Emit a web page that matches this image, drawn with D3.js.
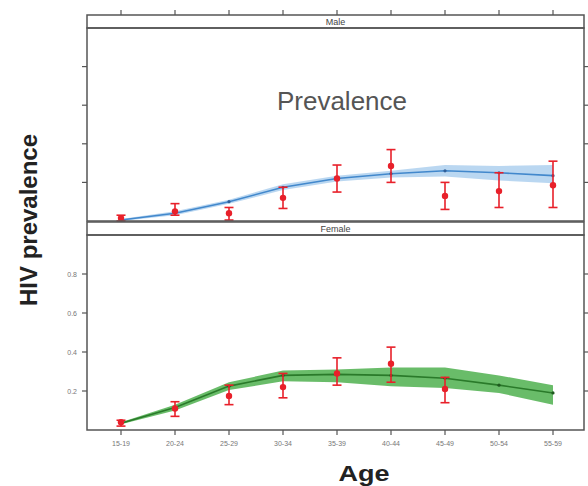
<!DOCTYPE html>
<html><head><meta charset="utf-8">
<script src="https://cdn.jsdelivr.net/npm/d3@7"></script>
<style>body{margin:0;background:#fff;} svg{display:block;font-family:"Liberation Sans",Arial,sans-serif;}</style>
</head><body>
<svg id="c" width="588" height="486"></svg>
<script>
const ageGroups = ["15-19","20-24","25-29","30-34","35-39","40-44","45-49","50-54","55-59"];
const yTicks = [0.2,0.4,0.6,0.8];

// Male model (blue)
const maleModel = [0.005,0.04,0.10,0.175,0.22,0.245,0.26,0.25,0.235];
const maleModelLo = [0.0,0.03,0.09,0.16,0.205,0.225,0.23,0.21,0.195];
const maleModelHi = [0.01,0.05,0.11,0.19,0.235,0.26,0.29,0.285,0.29];
// Male observed (red)
const maleObs = [0.015,0.05,0.04,0.12,0.22,0.285,0.13,0.155,0.185];
const maleObsLo = [0.0,0.03,0.005,0.065,0.15,0.20,0.06,0.07,0.07];
const maleObsHi = [0.03,0.09,0.07,0.175,0.29,0.37,0.20,0.25,0.31];

// Female model (green)
const femaleModel = [0.035,0.115,0.225,0.28,0.285,0.28,0.265,0.23,0.19];
const femaleModelLo = [0.03,0.10,0.205,0.25,0.245,0.225,0.215,0.19,0.13];
const femaleModelHi = [0.04,0.13,0.245,0.305,0.31,0.32,0.32,0.28,0.23];
// Female observed (red), ages 15-49 only
const femaleObs = [0.04,0.11,0.175,0.22,0.29,0.34,0.21];
const femaleObsLo = [0.02,0.07,0.13,0.165,0.23,0.245,0.14];
const femaleObsHi = [0.05,0.145,0.23,0.29,0.37,0.425,0.27];

const svg = d3.select("#c");
const X0 = 87, X1 = 584;
const x = d3.scalePoint().domain(ageGroups).range([121,553]);

const panels = [
  {name:"Male", stripTop:15, stripBot:28, plotBot:221, model:maleModel, lo:maleModelLo, hi:maleModelHi,
   obs:maleObs, oLo:maleObsLo, oHi:maleObsHi, band:"#aed0ee", line:"#4288cc", pt:"#2f5f9a", labels:false},
  {name:"Female", stripTop:222, stripBot:235, plotBot:430, model:femaleModel, lo:femaleModelLo, hi:femaleModelHi,
   obs:femaleObs, oLo:femaleObsLo, oHi:femaleObsHi, band:"#4fb04f", line:"#2a7a2a", pt:"#1f5a1f", labels:true}
];

const frame = "#555";
panels.forEach(p => {
  const y = d3.scaleLinear().domain([0,1]).range([p.plotBot, p.stripBot]);
  const g = svg.append("g");
  g.append("rect").attr("x",X0).attr("y",p.stripTop).attr("width",X1-X0).attr("height",p.stripBot-p.stripTop)
    .attr("fill","#fff").attr("stroke",frame).attr("stroke-width",1.5);
  g.append("text").attr("x",(X0+X1)/2).attr("y",(p.stripTop+p.stripBot)/2+3.5).attr("text-anchor","middle")
    .attr("font-size",9).attr("fill","#444").text(p.name);
  const idx = d3.range(ageGroups.length);
  g.append("path").datum(idx).attr("fill",p.band).attr("opacity",0.85)
    .attr("d", d3.area().x(i=>x(ageGroups[i])).y0(i=>y(p.lo[i])).y1(i=>y(p.hi[i])));
  g.append("path").datum(idx).attr("fill","none").attr("stroke",p.line).attr("stroke-width",1.6)
    .attr("d", d3.line().x(i=>x(ageGroups[i])).y(i=>y(p.model[i])));
  g.selectAll(".mp").data(idx).join("circle").attr("cx",i=>x(ageGroups[i])).attr("cy",i=>y(p.model[i]))
    .attr("r",1.6).attr("fill",p.pt);
  const oi = d3.range(p.obs.length);
  const red = "#e8202a";
  oi.forEach(i => {
    const cx = x(ageGroups[i]);
    g.append("line").attr("x1",cx).attr("x2",cx).attr("y1",y(p.oLo[i])).attr("y2",y(p.oHi[i])).attr("stroke",red).attr("stroke-width",1.6);
    [p.oLo[i],p.oHi[i]].forEach(v => g.append("line").attr("x1",cx-4.5).attr("x2",cx+4.5).attr("y1",y(v)).attr("y2",y(v)).attr("stroke",red).attr("stroke-width",1.6));
    g.append("circle").attr("cx",cx).attr("cy",y(p.obs[i])).attr("r",3.2).attr("fill",red);
  });
  g.append("rect").attr("x",X0).attr("y",p.stripBot).attr("width",X1-X0).attr("height",p.plotBot-p.stripBot)
    .attr("fill","none").attr("stroke",frame).attr("stroke-width",1.5);
  yTicks.forEach(t => {
    g.append("line").attr("x1",X0-5).attr("x2",X0).attr("y1",y(t)).attr("y2",y(t)).attr("stroke",frame).attr("stroke-width",1.2);
    g.append("line").attr("x1",X1).attr("x2",X1+5).attr("y1",y(t)).attr("y2",y(t)).attr("stroke",frame).attr("stroke-width",1.2);
    if (p.labels) g.append("text").attr("x",X0-10).attr("y",y(t)+2.5).attr("text-anchor","end").attr("font-size",7).attr("fill","#777").text(t.toFixed(1));
  });
});

ageGroups.forEach(a => {
  svg.append("line").attr("x1",x(a)).attr("x2",x(a)).attr("y1",10).attr("y2",15).attr("stroke",frame).attr("stroke-width",1.2);
  svg.append("line").attr("x1",x(a)).attr("x2",x(a)).attr("y1",430).attr("y2",435).attr("stroke",frame).attr("stroke-width",1.2);
  svg.append("text").attr("x",x(a)).attr("y",446).attr("text-anchor","middle").attr("font-size",7).attr("fill","#777").text(a);
});

svg.append("text").attr("x",342).attr("y",110).attr("text-anchor","middle").attr("font-size",26).attr("fill","#555").text("Prevalence");
svg.append("text").attr("transform","translate(37,220) rotate(-90)").attr("text-anchor","middle").attr("font-size",24).attr("font-weight","bold").attr("fill","#222").text("HIV prevalence");
svg.append("text").attr("x",364).attr("y",481).attr("text-anchor","middle").attr("font-size",22).attr("font-weight","bold").attr("fill","#222")
  .attr("textLength",51).attr("lengthAdjust","spacingAndGlyphs").text("Age");
</script>
</body></html>
